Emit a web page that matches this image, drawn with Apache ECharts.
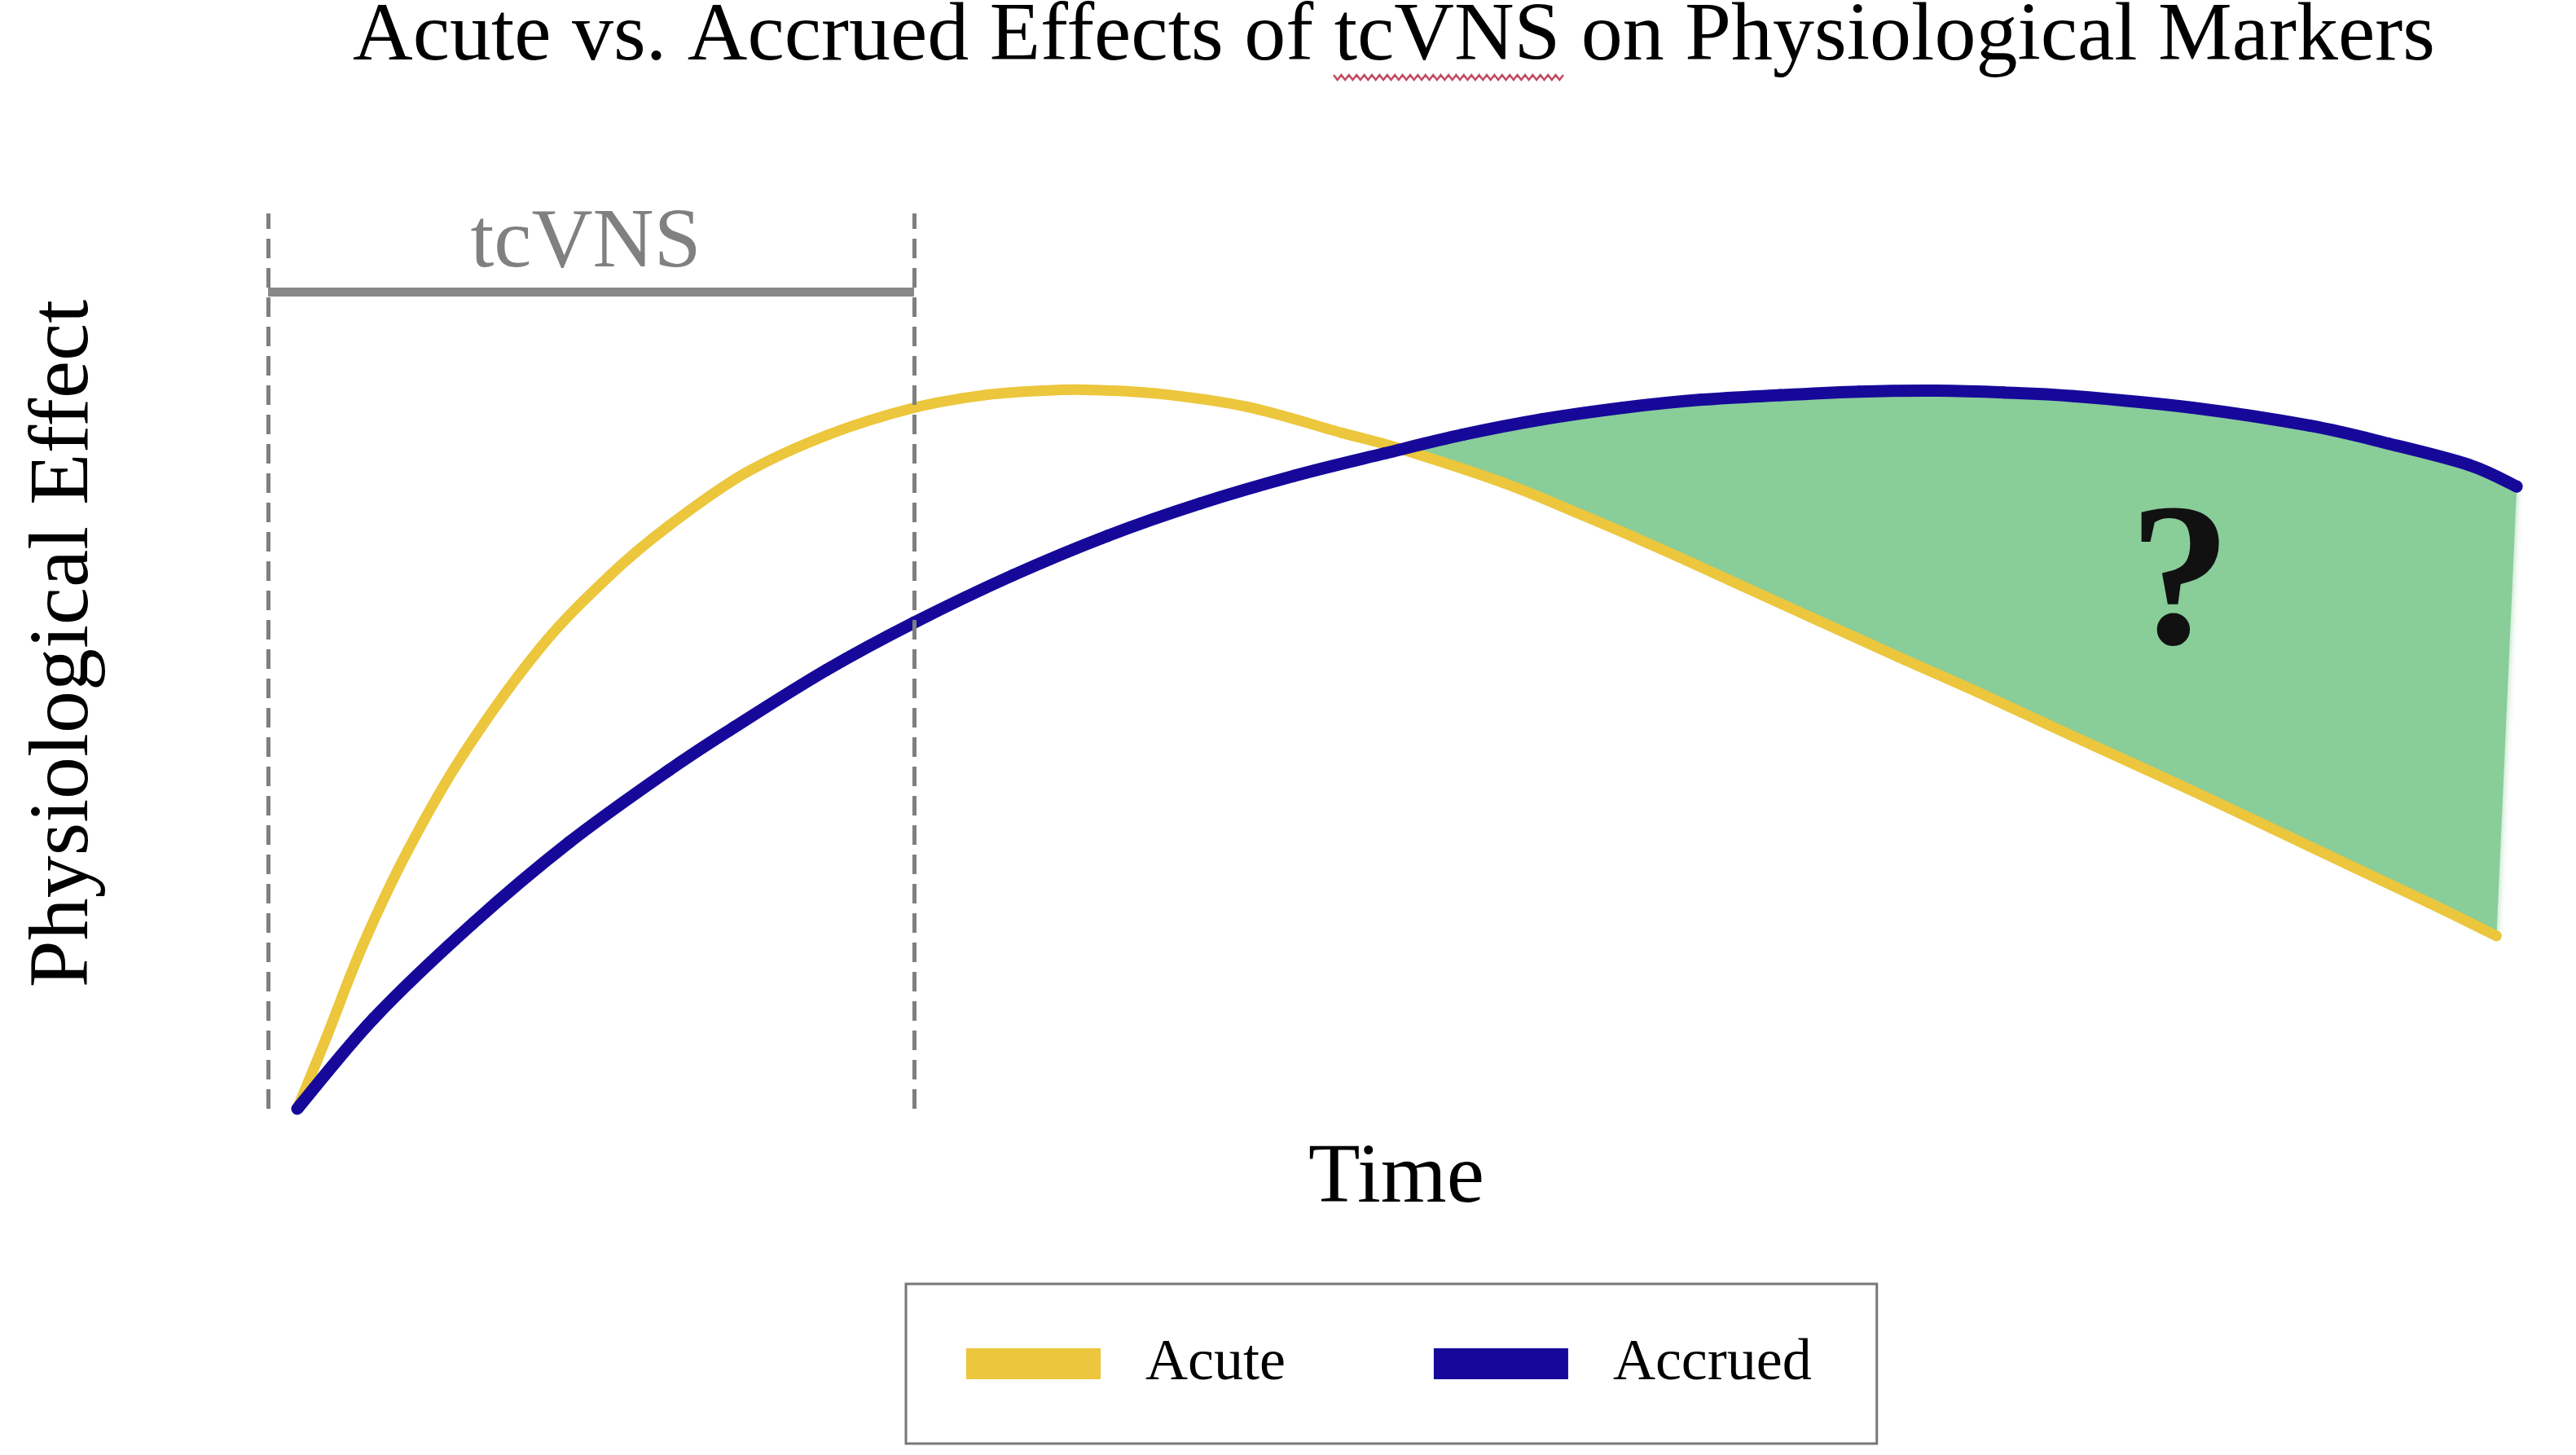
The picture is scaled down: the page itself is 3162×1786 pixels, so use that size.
<!DOCTYPE html>
<html>
<head>
<meta charset="utf-8">
<title>Acute vs. Accrued Effects of tcVNS</title>
<script src="https://cdn.jsdelivr.net/npm/echarts@6/dist/echarts.min.js"></script>
<style>
html, body { margin: 0; padding: 0; background: #fff; }
#main { width: 3162px; height: 1786px; }
</style>
</head>
<body>
<div id="main"></div>
<script>
// 曲线数据（时间 0-100，效果 0-100，均为示意单位）
var acute = [
	[1.3, 0], [2.6, 8.0], [4.2, 18.2], [6.2, 28.8], [8.7, 39.7], [12.1, 51.5],
	[15.2, 59.6], [17.8, 65.1], [21.2, 71.0], [24.9, 75.3], [28.7, 78.3], [31.8, 79.7],
	[34.4, 80.2], [36.3, 80.3], [39.4, 79.9], [43.5, 78.4], [47.7, 75.5], [50.2, 73.8],
	[54.9, 69.9], [58.4, 66.3], [61.9, 62.5], [65.4, 58.5], [68.9, 54.5], [72.4, 50.5],
	[75.9, 46.6], [80.2, 41.6], [85.5, 35.5], [90.7, 29.3], [96.0, 23.0], [99.0, 19.3]
];
var accrued = [
	[1.3, 0], [4.7, 10.1], [9.1, 20.7], [13.4, 29.8], [17.8, 37.8], [20.7, 42.6],
	[24.8, 49.0], [28.7, 54.3], [33.1, 59.6], [37.3, 64.0], [41.4, 67.6], [45.6, 70.7],
	[49.6, 73.2], [53.1, 75.3], [56.6, 77.0], [60.2, 78.3], [63.7, 79.2], [67.2, 79.7],
	[70.7, 80.1], [74.2, 80.2], [77.1, 80.0], [80.2, 79.6], [85.5, 78.3], [90.7, 76.3],
	[94.2, 74.3], [97.8, 71.9], [99.9, 69.5]
];
// 两条曲线交点
var crossing = [50.4, 73.7];
// 刺激时段
var stimStart = 0;
var stimEnd = 28.7;
var bracketLevel = 91.2;
var legendNames = ['Acute', 'Accrued'];

var serif = "'Liberation Serif', 'Times New Roman', serif";
var acuteColor = '#ecc63c';
var accruedColor = '#16099a';
var chart = echarts.init(document.getElementById('main'));

// 拼写检查的红色波浪线
var squiggle = [];
for (var i = 0; i <= 60; i++) {
	squiggle.push([1637 + i * 4.7, i % 2 == 0 ? 92 : 98]);
}

/**
 * 用贝塞尔曲线段平滑连接数据点（Catmull-Rom 控制点）
 */
function curveRenderer(points, color, width) {
	return function(params, api) {
		var p = points.map(function(d) { return api.coord(d); });
		var children = [];
		for (var k = 0; k < p.length - 1; k++) {
			var p0 = p[k > 0 ? k - 1 : k];
			var p1 = p[k];
			var p2 = p[k + 1];
			var p3 = p[k + 2 < p.length ? k + 2 : k + 1];
			children.push({
				type: 'bezierCurve',
				shape: {
					x1: p1[0], y1: p1[1], x2: p2[0], y2: p2[1],
					cpx1: p1[0] + (p2[0] - p0[0]) / 6, cpy1: p1[1] + (p2[1] - p0[1]) / 6,
					cpx2: p2[0] - (p3[0] - p1[0]) / 6, cpy2: p2[1] - (p3[1] - p1[1]) / 6
				},
				style: { stroke: color, lineWidth: width, fill: null, lineCap: 'round' }
			});
		}
		return { type: 'group', children: children };
	};
}

var dashStyle = { type: [24, 12], width: 5, color: '#7f7f7f' };

chart.setOption({
	backgroundColor: '#fff',
	animation: false,
	grid: { left: 329, right: 70, top: 262, bottom: 425 },
	xAxis: { type: 'value', min: 0, max: 100, show: false },
	yAxis: { type: 'value', min: 0, max: 100, show: false },
	legend: {
		data: legendNames,
		left: 1112,
		top: 1576,
		orient: 'horizontal',
		icon: 'rect',
		itemWidth: 165,
		itemHeight: 38,
		itemGap: 182,
		padding: [58, 80, 58, 74],
		borderColor: '#777',
		borderWidth: 3,
		textStyle: {
			fontFamily: serif,
			fontSize: 72,
			color: '#000',
			lineHeight: 80,
			padding: [0, 0, 0, 50]
		}
	},
	series: [
		{
			name: 'tcVNS',
			type: 'line',
			data: [],
			silent: true,
			markLine: {
				silent: true,
				symbol: ['none', 'none'],
				label: { show: false },
				data: [
					[{ coord: [stimStart, 0], lineStyle: dashStyle }, { coord: [stimStart, 100] }],
					[{ coord: [stimEnd, 0], lineStyle: dashStyle }, { coord: [stimEnd, 100] }],
					[{ coord: [stimStart, bracketLevel], lineStyle: { type: 'solid', width: 11, color: '#888' } },
						{ coord: [stimEnd, bracketLevel] }]
				]
			}
		},
		{
			name: 'gap',
			type: 'custom',
			z: 2,
			silent: true,
			clip: false,
			data: [[0, 0]],
			renderItem: function(params, api) {
				var top = [crossing].concat(accrued.filter(function(p) { return p[0] > crossing[0]; }));
				var bottom = acute.filter(function(p) { return p[0] > crossing[0]; }).reverse();
				var pts = top.concat(bottom).map(function(p) { return api.coord(p); });
				return {
					type: 'polygon',
					shape: { points: pts },
					style: { fill: '#89cd99', shadowBlur: 8, shadowColor: 'rgba(137,205,153,0.8)' }
				};
			}
		},
		{
			name: 'Acute',
			type: 'custom',
			z: 3,
			silent: true,
			clip: false,
			data: [[0, 0]],
			itemStyle: { color: acuteColor },
			renderItem: curveRenderer(acute, acuteColor, 13)
		},
		{
			name: 'Accrued',
			type: 'custom',
			z: 4,
			silent: true,
			clip: false,
			data: [[0, 0]],
			itemStyle: { color: accruedColor },
			renderItem: curveRenderer(accrued, accruedColor, 15)
		}
	],
	graphic: [
		{
			type: 'text', x: 1711, y: 46,
			style: { text: 'Acute vs. Accrued Effects of tcVNS on Physiological Markers', fontFamily: serif,
				fontSize: 102, fill: '#000', align: 'center', verticalAlign: 'middle',
				textAlign: 'center', textVerticalAlign: 'middle' }
		},
		{
			type: 'polyline',
			shape: { points: squiggle },
			style: { stroke: '#c24a60', lineWidth: 2.5, fill: null }
		},
		{
			type: 'text', x: 719, y: 300,
			style: { text: 'tcVNS', fontFamily: serif, fontSize: 104, fill: '#808080',
				align: 'center', verticalAlign: 'middle', textAlign: 'center', textVerticalAlign: 'middle' }
		},
		{
			type: 'text', x: 80, y: 790, rotation: Math.PI / 2,
			style: { text: 'Physiological Effect', fontFamily: serif, fontSize: 104, fill: '#000',
				align: 'center', verticalAlign: 'middle', textAlign: 'center', textVerticalAlign: 'middle' }
		},
		{
			type: 'text', x: 1714, y: 1448,
			style: { text: 'Time', fontFamily: serif, fontSize: 104, fill: '#000',
				align: 'center', verticalAlign: 'middle', textAlign: 'center', textVerticalAlign: 'middle' }
		},
		{
			type: 'text', x: 2676, y: 724, z: 10,
			style: { text: '?', fontFamily: serif, fontSize: 250, fontWeight: 'bold', fill: '#111',
				align: 'center', verticalAlign: 'middle', textAlign: 'center', textVerticalAlign: 'middle' }
		}
	]
});
</script>
</body>
</html>
